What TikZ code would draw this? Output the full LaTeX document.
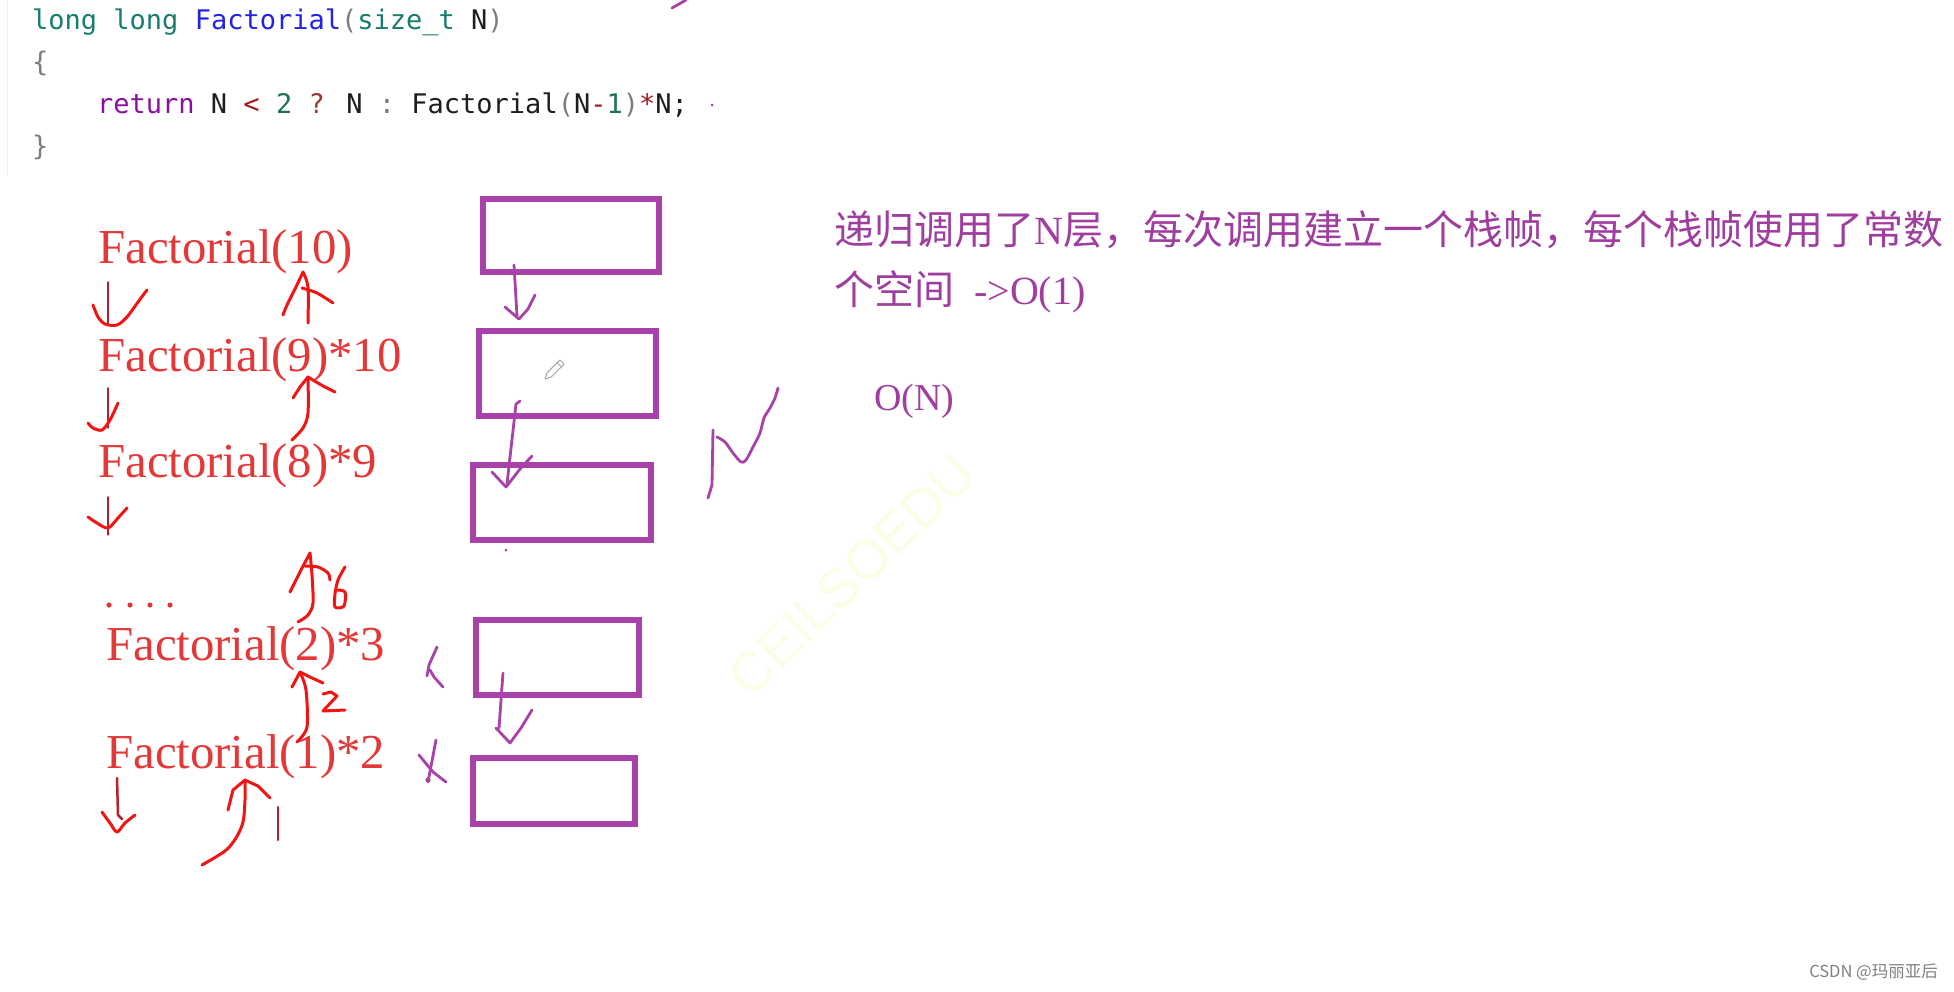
\documentclass[tikz,border=0pt]{standalone}
\usepackage{fontspec}
\setmainfont{Liberation Serif}
\newfontfamily\codefont{DejaVu Sans Mono}
\newfontfamily\cjk{Noto Sans CJK SC}
\newfontfamily\wmfont{Liberation Sans}

\definecolor{boxpurple}{RGB}{168,66,168}
\definecolor{textpurple}{RGB}{160,62,160}
\definecolor{handred}{RGB}{240,20,20}
\definecolor{darkred}{RGB}{185,30,45}
\definecolor{textred}{RGB}{228,56,56}
\definecolor{codeink}{RGB}{30,30,30}
\definecolor{kwteal}{RGB}{25,125,110}
\definecolor{fnblue}{RGB}{35,35,225}
\definecolor{punctgray}{RGB}{125,125,125}
\definecolor{retpurple}{RGB}{140,15,160}
\definecolor{oprred}{RGB}{165,25,30}
\definecolor{numgreen}{RGB}{30,115,80}
\definecolor{wmgreen}{RGB}{249,255,230}

\begin{document}
\begin{tikzpicture}[x=1pt, y=-1pt,
    codeline/.style={anchor=base west, inner sep=0pt, text=codeink, font=\codefont\fontsize{27}{32}\selectfont},
    call/.style={anchor=base west, inner sep=0pt, text=textred, font=\fontsize{48.8}{58}\selectfont},
    stackbox/.style={draw=boxpurple, line width=6pt, inner sep=0pt},
    note/.style={anchor=base west, inner sep=0pt, text=textpurple, font=\cjk\fontsize{40}{48}\selectfont},
    redpen/.style={handred, line width=3pt, line cap=round, line join=round},
    thinpen/.style={darkred, line width=1.4pt, line cap=round},
    purplepen/.style={boxpurple, line width=2.8pt, line cap=round, line join=round}]
  \path[use as bounding box, fill=white] (0,0) rectangle (1954,991);
  \draw[gray!15, line width=1pt] (7,0) -- (7,175);

  % code
  \node[codeline] (c1) at (32,29) {{\color{kwteal}long long} {\color{fnblue}Factorial}{\color{punctgray}(}{\color{kwteal}size\_t} N{\color{punctgray})}};
  \node[codeline, text=punctgray] (c2) at (32,71) {\{};
  \node[codeline] (c3) at (97,113) {{\color{retpurple}return} N {\color{oprred}<} {\color{numgreen}2} {\color{oprred!70!gray}?} N {\color{punctgray}:} Factorial{\color{punctgray}(}N{\color{oprred}-}{\color{numgreen}1}{\color{punctgray})}{\color{oprred}*}N;};
  \node[codeline, text=punctgray] (c4) at (32,155) {\}};
  \fill[boxpurple] (712,105) circle (1.5);
  \draw[purplepen] (672,8) -- (686,0);

  % calls
  \node[call] (f10) at (98,263) {Factorial(10)};
  \node[call] (f9) at (98,371) {Factorial(9)*10};
  \node[call] (f8) at (98,477) {Factorial(8)*9};
  \foreach \x in {109,130,150,170}
    \fill[textred] (\x,605) circle (2.6);
  \node[call] (f2) at (106,660) {Factorial(2)*3};
  \node[call] (f1) at (106,768) {Factorial(1)*2};

  % going down
  \draw[thinpen] (108,282) -- (108,323);
  \draw[redpen] plot[smooth] coordinates {(93,305) (98,317) (105,324) (117,325) (127,317) (138,302) (147,290)};
  \draw[thinpen] (108,388) -- (108,428);
  \draw[redpen] plot[smooth] coordinates {(88,423) (93,428) (102,430) (110,420) (118,403)};
  \draw[thinpen] (108,497) -- (108,535);
  \draw[redpen] plot[smooth] coordinates {(88,517) (97,523) (108,528) (118,518) (127,508)};
  \draw[darkred, line width=2.5pt, line cap=round] (117,778) -- (118,815) -- (122,819);
  \draw[redpen] plot[smooth] coordinates {(102,812) (110,823) (117,832) (125,823) (135,815)};

  % coming back up
  \draw[redpen] plot[smooth] coordinates {(283,315) (287,305) (295,289) (303,272)};
  \draw[redpen] plot[smooth] coordinates {(303,272) (308,287) (308,323)};
  \draw[redpen] plot[smooth] coordinates {(302,288) (317,293) (333,303)};
  \draw[redpen] plot[smooth] coordinates {(292,440) (303,428) (308,413) (308,377)};
  \draw[redpen] (293,398) -- (300,387) -- (308,377) -- (323,386) -- (335,392);
  \draw[redpen] (290,592) -- (295,582) -- (302,568) -- (310,553);
  \draw[redpen] plot[smooth] coordinates {(310,553) (312,575) (313,603) (308,615) (298,622)};
  \draw[redpen] plot[smooth] coordinates {(305,566) (318,567) (328,573) (330,580)};
  \draw[redpen] plot[smooth] coordinates {(345,567) (338,580) (335,594) (335,607) (344,606) (345,592) (336,590)};
  \draw[redpen] (292,687) -- (300,672) -- (310,677) -- (323,683);
  \draw[redpen] plot[smooth] coordinates {(300,672) (306,690) (307,727) (297,742)};
  \draw[redpen] (323,694) -- (331,692) -- (337,696) -- (323,711) -- (345,710);
  \draw[redpen] (228,810) -- (233,790) -- (245,780) -- (258,786) -- (270,798);
  \draw[redpen] plot[smooth] coordinates {(245,780) (245,800) (243,822) (236,838) (225,851) (202,865)};
  \draw[darkred, line width=2.5pt, line cap=round] (278,807) -- (278,840);

  % stack frames
  \node[stackbox, minimum width=176pt, minimum height=73pt] (s1) at (571,235.5) {};
  \node[stackbox, minimum width=177pt, minimum height=85pt] (s2) at (567.5,373.5) {};
  \node[stackbox, minimum width=178pt, minimum height=75pt] (s3) at (562,502.5) {};
  \node[stackbox, minimum width=163pt, minimum height=75pt] (s4) at (557.5,657.5) {};
  \node[stackbox, minimum width=162pt, minimum height=66pt] (s5) at (554,791) {};
  \draw[purplepen] (514,265) -- (517,316);
  \draw[purplepen] (505,307) -- (519,319) -- (528,309) -- (535,295);
  \draw[purplepen] (520,401) -- (516,404) -- (507,484);
  \draw[purplepen] (492,472) -- (506,487) -- (520,469) -- (532,456);
  \fill[boxpurple] (506,550) circle (1.5);
  \draw[purplepen] (503,673) -- (499,728);
  \draw[purplepen] (496,728) -- (510,743) -- (521,728) -- (532,710);
  \draw[purplepen] (437,647) -- (429,665) -- (427,676);
  \draw[purplepen] (430,670) -- (434,677) -- (443,687);
  \draw[purplepen] (436,740) -- (428,782);
  \draw[purplepen] (419,755) -- (433,772) -- (446,782);
  \fill[boxpurple] (428,780) circle (2.6);
  \draw[purplepen] (713,430) -- (712,485) -- (708,498);
  \draw[purplepen] plot[smooth] coordinates {(717,437) (725,442) (733,453) (741,462) (746,460) (753,447) (760,433) (764,418) (770,408) (775,398) (778,388)};

  % pencil cursor
  \draw[gray!70, line width=1pt, line join=round] (545,379) -- (551.3,376.9) -- (564.1,364.1) -- (559.9,359.9) -- (547.1,372.7) -- cycle;
  \draw[gray!70, line width=1pt] (561.5,367) -- (557,362.5);

  % notes
  \node[note] (n1) at (834,244) {递归调用了{\rmfamily N}层，每次调用建立一个栈帧，每个栈帧使用了常数};
  \node[note] (n2) at (834,304) {个空间\hspace{20pt}{\rmfamily ->O(1)}};
  \node[note, font=\fontsize{38}{46}\selectfont] (on) at (874,410) {O(N)};

  % watermarks
  \node[text=wmgreen, font=\wmfont\fontsize{55}{66}\selectfont, rotate=44, inner sep=0pt] (wm) at (852,575) {CEILSOEDU};
  \node[anchor=base east, inner sep=0pt, text=gray, font=\cjk\fontsize{16.5}{20}\selectfont] (csdn) at (1938,977) {CSDN @玛丽亚后};
\end{tikzpicture}
\end{document}
